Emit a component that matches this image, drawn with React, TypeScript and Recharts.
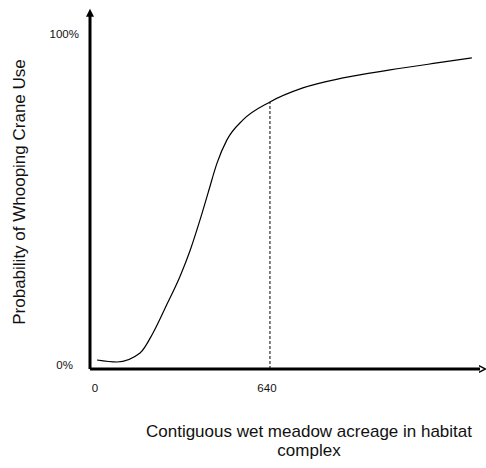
import { LineChart, Line, XAxis, YAxis, ReferenceLine, Label } from "recharts";

// acreage (x) vs probability of use (%)
const acreage = [25, 96, 178, 224, 274, 320, 356, 391, 420, 452, 487, 544, 640, 757, 900, 1067, 1234, 1358];
const probability = [2.7, 2.1, 4.8, 10.8, 19.5, 27.8, 35.6, 44.7, 52.9, 61.9, 68.8, 74.8, 80.2, 84.4, 87.4, 89.8, 91.9, 93.4];

const xTicks = [0, 640];
const yTicks = [0, 100];
const thresholdAcreage = 640;
const thresholdProbability = 80.2;

const xTitle = ["Contiguous wet meadow acreage in habitat", "complex"];
const yTitle = "Probability of Whooping Crane Use";

const FONT = "'Liberation Sans', Arial, sans-serif";

const chartData = acreage.map((a, i) => ({ acreage: a, p: probability[i] }));

const YTick = (props: any) => {
  const { x, y, payload } = props;
  const top = payload.value === 100;
  return (
    <text x={x - (top ? 11 : 17)} y={y + (top ? 2 : 0)} textAnchor="end" fontSize={11.5} fontFamily={FONT} fill="#111">
      {payload.value}%
    </text>
  );
};

const XTick = (props: any) => {
  const { x, y, payload } = props;
  const dx = payload.value === 0 ? 5 : -3;
  return (
    <text x={x + dx} y={y + 23} textAnchor="middle" fontSize={11.5} fontFamily={FONT} fill="#111">
      {payload.value}
    </text>
  );
};

const XTitle = (props: any) => {
  const { viewBox } = props;
  const cx = viewBox.x + viewBox.width / 2 + 24;
  return (
    <text x={cx} y={viewBox.y + 68} textAnchor="middle" fontSize={17} fontFamily={FONT} fill="#111">
      <tspan x={cx}>{xTitle[0]}</tspan>
      <tspan x={cx} dy={19}>{xTitle[1]}</tspan>
    </text>
  );
};

const YTitle = (props: any) => {
  const { viewBox } = props;
  const cx = viewBox.x - 11;
  const cy = viewBox.y + 176;
  return (
    <text x={cx} y={cy} transform={`rotate(-90, ${cx}, ${cy})`} textAnchor="middle" dominantBaseline="central" fontSize={17} fontFamily={FONT} fill="#111">
      {yTitle}
    </text>
  );
};

export default function App() {
  return (
    <div style={{ position: "absolute", left: 0, top: 0, background: "#fff" }}>
      <LineChart width={486} height={468} data={chartData} margin={{ top: 16, right: 6, left: 30, bottom: 69 }}>
        <defs>
          <marker id="arrowUp" viewBox="0 0 10 10" refX="1" refY="5" markerWidth="9" markerHeight="8" markerUnits="userSpaceOnUse" orient="auto-start-reverse">
            <path d="M0,0 L10,5 L0,10 z" fill="#000" />
          </marker>
          <marker id="arrowRight" viewBox="0 0 10 10" refX="2" refY="5" markerWidth="7" markerHeight="8" markerUnits="userSpaceOnUse" orient="auto">
            <path d="M0,0 L10,5 L0,10" fill="none" stroke="#000" strokeWidth="2" />
          </marker>
        </defs>
        <XAxis
          dataKey="acreage"
          type="number"
          domain={[0, 1387]}
          ticks={xTicks}
          tick={<XTick />}
          tickLine={false}
          tickSize={0}
          tickMargin={0}
          height={30}
          axisLine={{ stroke: "#000", strokeWidth: 3, markerEnd: "url(#arrowRight)" }}
          allowDataOverflow
        >
          <Label content={<XTitle />} />
        </XAxis>
        <YAxis
          type="number"
          domain={[0, 106]}
          ticks={yTicks}
          tick={<YTick />}
          tickLine={false}
          tickSize={0}
          tickMargin={0}
          width={60}
          axisLine={{ stroke: "#000", strokeWidth: 3, markerStart: "url(#arrowUp)" }}
          allowDataOverflow
        >
          <Label content={<YTitle />} />
        </YAxis>
        <ReferenceLine
          segment={[{ x: thresholdAcreage, y: 0 }, { x: thresholdAcreage, y: thresholdProbability }]}
          stroke="#000"
          strokeWidth={1}
          strokeDasharray="3 2"
        />
        <Line type="monotone" dataKey="p" stroke="#000" strokeWidth={1.2} dot={false} isAnimationActive={false} />
      </LineChart>
    </div>
  );
}
